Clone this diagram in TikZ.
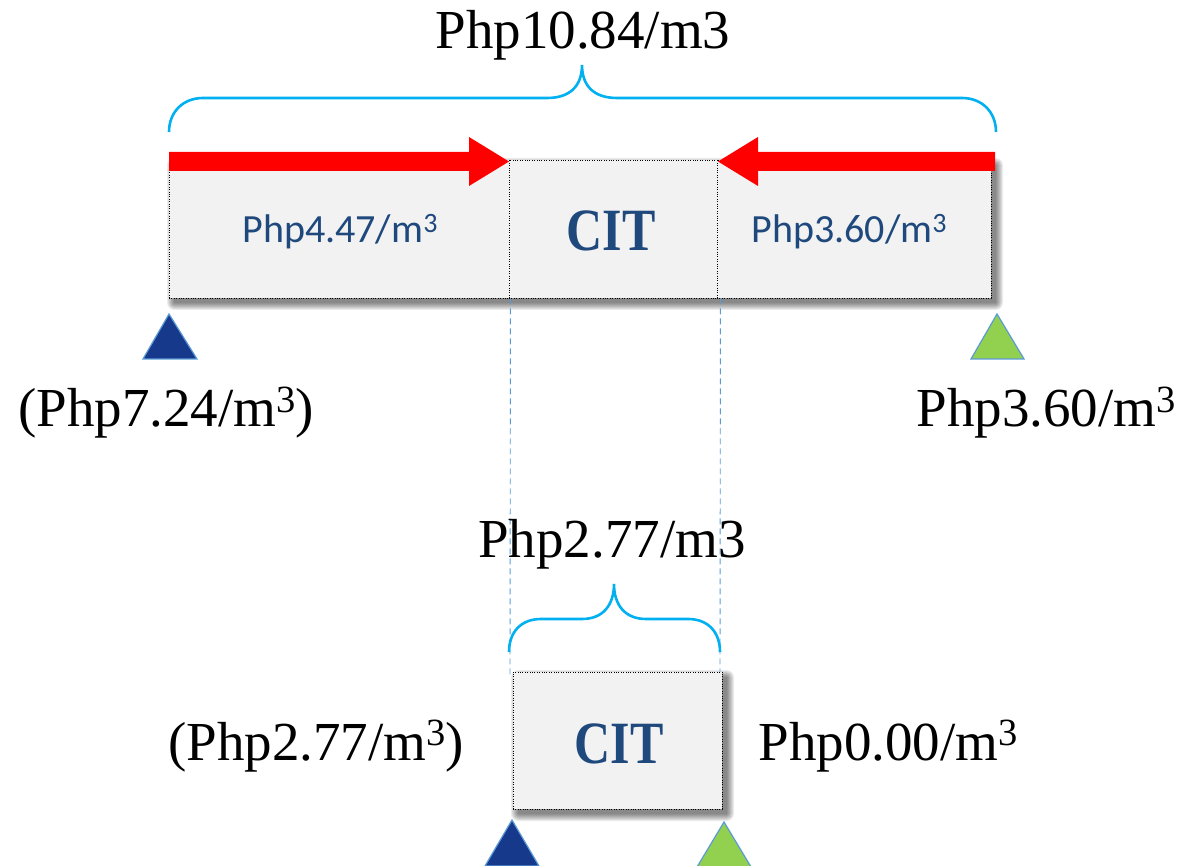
\documentclass[tikz,border=0pt]{standalone}
\usepackage{fontspec}
\usepackage{graphicx}
\setmainfont{Liberation Serif}
\newfontfamily\boxfont{Carlito}
\definecolor{boxtext}{RGB}{31,73,125}
\definecolor{boxfill}{RGB}{242,242,242}
\definecolor{braceblue}{RGB}{0,176,240}
\definecolor{guideblue}{RGB}{91,155,213}
\definecolor{triblue}{RGB}{22,57,140}
\definecolor{trigreen}{RGB}{146,208,80}
\newcommand{\cubesup}{\raisebox{0.27em}{\scalebox{0.7}{3}}}
\newcommand{\citword}{\scalebox{1}[1.2]{CIT}}
\newcommand{\softshadow}[4]{%
  \foreach \r in {7,6,5,4,3,2,1,0}{%
    \fill[black, opacity=0.075, rounded corners={\r*1pt+0.5pt}]
      ({#1+5-\r},{#2+5-\r}) rectangle ({#3+5+\r},{#4+5+\r});}}
\begin{document}
\begin{tikzpicture}[x=1pt,y=-1pt,
  box/.style={draw=black, line width=0.9pt, dash pattern=on 0.9pt off 1.5pt, fill=boxfill, inner sep=0pt},
  biglbl/.style={font=\fontsize{55}{60}\selectfont, inner sep=0pt, anchor=base},
  boxlbl/.style={font=\boxfont\fontsize{40}{48}\selectfont, text=boxtext, anchor=base, inner sep=0pt},
  citlbl/.style={font=\bfseries\fontsize{50}{60}\selectfont, text=boxtext, anchor=base, inner sep=0pt},
  bracepath/.style={draw=braceblue, line width=2.6pt},
  guide/.style={draw=guideblue, line width=0.9pt, dash pattern=on 6pt off 4pt},
  tri/.style={draw=guideblue, line width=1.2pt, line join=miter},
  redarrow/.style={fill=red}]
\useasboundingbox (0,0) rectangle (1184,866);

% shadows
\softshadow{169}{160}{991}{298}
\softshadow{513}{672}{722}{809}

% top boxes
\node[box, minimum width=340pt, minimum height=138pt] (L) at (339,229) {};
\node[box, minimum width=208pt, minimum height=138pt] (M) at (613,229) {};
\node[box, minimum width=274pt, minimum height=138pt] (R) at (854,229) {};
\node[boxlbl] (Lt) at (340,243) {Php4.47/m\cubesup};
\node[citlbl] (Mt) at (611,251) {\citword};
\node[boxlbl] (Rt) at (849,243) {Php3.60/m\cubesup};

% red arrows
\fill[redarrow] (169,152) -- (469,152) -- (469,137) -- (509,161.5) -- (469,186)
  -- (469,171) -- (169,171) -- cycle;
\fill[redarrow] (995,152) -- (758,152) -- (758,137) -- (718,161.5) -- (758,186)
  -- (758,171) -- (995,171) -- cycle;

% top brace
\draw[bracepath] (169,132) .. controls (169,112) and (183,98) .. (203,98) -- (547,98)
  .. controls (570,98) and (582,86) .. (582,65)
  .. controls (582,86) and (594,98) .. (617,98) -- (962,98)
  .. controls (982,98) and (996,112) .. (996,132);
\node[biglbl] (total) at (583,49) {Php10.84/m3};

% triangles top
\filldraw[tri, fill=triblue] (169,314) -- (197,359) -- (143,359) -- cycle;
\filldraw[tri, fill=trigreen] (997,314) -- (1024,359) -- (971,359) -- cycle;
\node[biglbl] (a1) at (166,427) {(Php7.24/m\cubesup)};
\node[biglbl] (a2) at (1046,427) {Php3.60/m\cubesup};

% guides
\coordinate (g1) at (510,677);
\coordinate (g2) at (720,672);
\draw[guide] (L.south east) ++(1,0) -- (g1);
\draw[guide] (M.south east) ++(3,0) -- (g2);

% bottom brace
\draw[bracepath] (509,652) .. controls (509,632) and (521,619) .. (541,619) -- (582,619)
  .. controls (603,619) and (614,605) .. (614,584)
  .. controls (614,605) and (625,619) .. (646,619) -- (688,619)
  .. controls (708,619) and (720,632) .. (720,652);
\node[biglbl] (sub) at (612,557) {Php2.77/m3};

% bottom box
\node[box, minimum width=209pt, minimum height=137pt] (B) at (617.5,740.5) {};
\node[citlbl] (Bt) at (619,763) {\citword};
\node[biglbl] (b1) at (316,760) {(Php2.77/m\cubesup)};
\node[biglbl] (b2) at (888,760) {Php0.00/m\cubesup};

% triangles bottom
\filldraw[tri, fill=triblue] (512,820) -- (539,866) -- (485,866) -- cycle;
\filldraw[tri, fill=trigreen] (724,822) -- (751,867) -- (697,867) -- cycle;
\end{tikzpicture}
\end{document}
